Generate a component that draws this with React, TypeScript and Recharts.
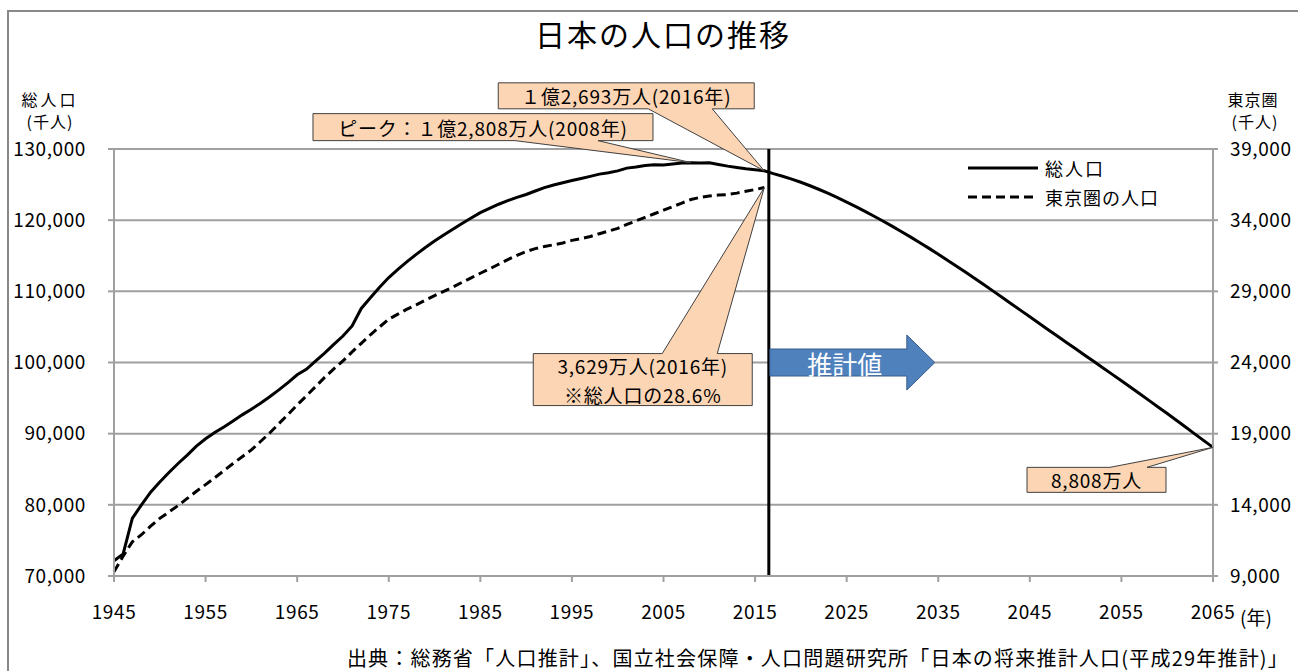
import {
  ComposedChart, Line, XAxis, YAxis, CartesianGrid, ReferenceLine, ReferenceDot,
} from 'recharts';

const FONT = '"Noto Sans CJK JP", "Noto Sans", sans-serif';

// 総人口 (千人) 1945-2065, 2017以降は推計値
const totalPop = [
  72147, 73114, 78101, 80002, 81773, // 1945-49
  83200, 84541, 85808, 86981, 88239, 89276, 90172, 90928, 91767, 92641, // 1950s
  93419, 94287, 95181, 96156, 97182, 98275, 99036, 100196, 101331, 102536, // 1960s
  103720, 105145, 107595, 109104, 110573, 111940, 113094, 114165, 115190, 116155, // 1970s
  117060, 117902, 118728, 119536, 120305, 121049, 121660, 122239, 122745, 123205, // 1980s
  123611, 124101, 124567, 124938, 125265, 125570, 125859, 126157, 126472, 126667, // 1990s
  126926, 127316, 127486, 127694, 127787, 127768, 127901, 128033, 128084, 128032, // 2000s
  128057, 127834, 127593, 127414, 127237, 127095, 126933, 126532, 126177, 125773, // 2010s
  125325, 124836, 124310, 123751, 123161, 122544, 121903, 121240, 120555, 119850, // 2020s
  119125, 118380, 117616, 116833, 116033, 115216, 114383, 113535, 112674, 111801, // 2030s
  110919, 110028, 109131, 108229, 107326, 106421, 105517, 104614, 103716, 102819, // 2040s
  101923, 101026, 100129, 99231, 98334, 97441, 96520, 95600, 94680, 93760, // 2050s
  92840, 91880, 90930, 89970, 89020, 88077, // 2060-65
];

// 東京圏の人口 (千人) 1945-2016
const tokyoPop = [
  9300, 10400, 11400, 11900, 12500, // 1945-49
  13050, 13500, 13950, 14450, 14950, 15420, 15900, 16400, 16900, 17380, // 1950s
  17860, 18450, 19050, 19700, 20350, 21020, 21650, 22300, 22950, 23550, // 1960s
  24110, 24750, 25350, 25950, 26500, 27040, 27400, 27750, 28050, 28380, // 1970s
  28700, 29000, 29300, 29630, 29950, 30270, 30570, 30900, 31230, 31530, // 1980s
  31800, 32000, 32150, 32270, 32400, 32580, 32700, 32850, 33050, 33230, // 1990s
  33420, 33700, 33950, 34200, 34450, 34700, 34950, 35200, 35450, 35600, // 2000s
  35700, 35760, 35800, 35900, 36030, 36150, 36290, // 2010-16
];

const firstYear = 1945;
const xTicks = [1945, 1955, 1965, 1975, 1985, 1995, 2005, 2015, 2025, 2035, 2045, 2055, 2065];
const leftTicks = [70000, 80000, 90000, 100000, 110000, 120000, 130000];
const rightTicks = [9000, 14000, 19000, 24000, 29000, 34000, 39000];

const estimateStart = 2016.5;

const data = totalPop.map((v, i) => ({
  year: firstYear + i,
  total: v,
  tokyo: i < tokyoPop.length ? tokyoPop[i] : null,
}));

const fmt = (v: number) => v.toLocaleString('en-US');

type CalloutOpts = {
  left: number; right: number; top: number; bottom: number;
  w0: number; w1: number; side: 'top' | 'bottom'; lines: string[];
};

// callout box with a wedge pointing at (cx, cy)
const callout = (o: CalloutOpts) => (props: any) => {
  const { cx, cy } = props;
  const L = cx + o.left, R = cx + o.right, T = cy + o.top, B = cy + o.bottom;
  const d = o.side === 'bottom'
    ? `M${L},${T} H${R} V${B} H${cx + o.w1} L${cx},${cy} L${cx + o.w0},${B} H${L} Z`
    : `M${L},${T} H${cx + o.w0} L${cx},${cy} L${cx + o.w1},${T} H${R} V${B} H${L} Z`;
  const mid = (T + B) / 2;
  const lh = 29;
  return (
    <g>
      <path d={d} fill="#FCD5B4" stroke="#404040" strokeWidth={1} />
      {o.lines.map((s, i) => (
        <text key={i} x={(L + R) / 2} y={mid + (i - (o.lines.length - 1) / 2) * lh}
          textAnchor="middle" dominantBaseline="central" fontSize={19} letterSpacing={0.8}
          fontFamily={FONT} fill="#000">
          {s}
        </text>
      ))}
    </g>
  );
};

const arrowShape = (props: any) => {
  const { cx, cy } = props;
  const x0 = cx + 1, xb = cx + 138, xt = cx + 166;
  const d = `M${x0},${cy - 13.5} H${xb} V${cy - 27.5} L${xt},${cy} L${xb},${cy + 27.5} V${cy + 13.5} H${x0} Z`;
  return (
    <g>
      <path d={d} fill="#4F81BD" stroke="#385D8A" strokeWidth={1} />
      <text x={cx + 76} y={cy} textAnchor="middle" dominantBaseline="central"
        fontSize={25} fontFamily={FONT} fill="#fff">推計値</text>
    </g>
  );
};

const tickStyle = { fontSize: 19, fontFamily: FONT, fill: '#000', letterSpacing: 0.6 };

export default function App() {
  const W = 1298, H = 671;
  return (
    <div style={{ position: 'absolute', left: 0, top: 0, width: W, height: H, background: '#fff', overflow: 'hidden' }}>
      <div style={{ position: 'absolute', left: 7, top: 10, right: -10, bottom: -10, borderTop: '2px solid #888', borderLeft: '2px solid #888' }} />
      <ComposedChart width={W} height={H} data={data}
        margin={{ top: 149, right: 5, bottom: 55, left: 14 }}
        style={{ position: 'absolute', left: 0, top: 0 }}>
        <CartesianGrid yAxisId="left" vertical={false} stroke="#A0A0A0" strokeWidth={2} />
        <XAxis dataKey="year" type="number" domain={[1945, 2065]} ticks={xTicks}
          axisLine={{ stroke: '#A0A0A0', strokeWidth: 2 }} tickLine={{ stroke: '#A0A0A0', strokeWidth: 2 }}
          tickSize={6} tickMargin={24} height={40} tick={tickStyle} />
        <YAxis yAxisId="left" domain={[70000, 130000]} ticks={leftTicks} tickFormatter={fmt}
          axisLine={{ stroke: '#A0A0A0', strokeWidth: 2 }} tickLine={{ stroke: '#A0A0A0', strokeWidth: 2 }}
          tickSize={6} tickMargin={22} width={100} tick={tickStyle} />
        <YAxis yAxisId="right" orientation="right" domain={[9000, 39000]} ticks={rightTicks} tickFormatter={fmt}
          axisLine={{ stroke: '#A0A0A0', strokeWidth: 2 }} tickLine={{ stroke: '#A0A0A0', strokeWidth: 2 }}
          tickSize={5} tickMargin={12} width={80} tick={{ ...tickStyle, textAnchor: 'start' }} />
        <Line yAxisId="left" dataKey="total" type="linear" stroke="#000" strokeWidth={3}
          dot={false} isAnimationActive={false} />
        <Line yAxisId="right" dataKey="tokyo" type="linear" stroke="#000" strokeWidth={3}
          strokeDasharray="9 5" dot={false} connectNulls={false} isAnimationActive={false} />
        <ReferenceLine yAxisId="left" x={estimateStart} stroke="#000" strokeWidth={3} />
        <ReferenceDot yAxisId="left" x={estimateStart} y={100000} shape={arrowShape} />
        <ReferenceDot yAxisId="left" x={2008} y={128084}
          shape={callout({ left: -378, right: -38, top: -49, bottom: -22, w0: -176, w1: -93, side: 'bottom', lines: ['ピーク：１億2,808万人(2008年)'] })} />
        <ReferenceDot yAxisId="left" x={2016} y={126933}
          shape={callout({ left: -266, right: -10, top: -88, bottom: -62, w0: -116, w1: -52, side: 'bottom', lines: ['１億2,693万人(2016年)'] })} />
        <ReferenceDot yAxisId="right" x={2016} y={36290}
          shape={callout({ left: -231, right: -12, top: 166, bottom: 218, w0: -102, w1: -47, side: 'top', lines: ['3,629万人(2016年)', '※総人口の28.6%'] })} />
        <ReferenceDot yAxisId="left" x={2065} y={88077}
          shape={callout({ left: -186, right: -47, top: 20, bottom: 45, w0: -103, w1: -66, side: 'top', lines: ['8,808万人'] })} />
      </ComposedChart>
      <svg width={W} height={H} style={{ position: 'absolute', left: 0, top: 0, pointerEvents: 'none' }}>
        <text x={663} y={33} textAnchor="middle" dominantBaseline="central" fontSize={30} letterSpacing={2} fontFamily={FONT}>日本の人口の推移</text>
        <text x={50} y={99} textAnchor="middle" dominantBaseline="central" fontSize={16} fontFamily={FONT} letterSpacing={3}>総人口</text>
        <text x={50} y={121} textAnchor="middle" dominantBaseline="central" fontSize={16} fontFamily={FONT} letterSpacing={1}>(千人)</text>
        <text x={1253} y={99} textAnchor="middle" dominantBaseline="central" fontSize={16} fontFamily={FONT} letterSpacing={1}>東京圏</text>
        <text x={1255} y={121} textAnchor="middle" dominantBaseline="central" fontSize={16} fontFamily={FONT} letterSpacing={1}>(千人)</text>
        <text x={1240} y={616} dominantBaseline="central" fontSize={19} fontFamily={FONT}>(年)</text>
        <line x1={968} x2={1038} y1={168} y2={168} stroke="#000" strokeWidth={3} />
        <text x={1045} y={168} dominantBaseline="central" fontSize={18} fontFamily={FONT} letterSpacing={2}>総人口</text>
        <line x1={968} x2={1038} y1={197} y2={197} stroke="#000" strokeWidth={3} strokeDasharray="9 5" />
        <text x={1045} y={197} dominantBaseline="central" fontSize={18} fontFamily={FONT} letterSpacing={1}>東京圏の人口</text>
        <text x={1289} y={657} textAnchor="end" dominantBaseline="central" fontSize={20} letterSpacing={1.2} fontFamily={FONT}>
          出典：総務省「人口推計」、国立社会保障・人口問題研究所「日本の将来推計人口(平成29年推計)」
        </text>
      </svg>
    </div>
  );
}
